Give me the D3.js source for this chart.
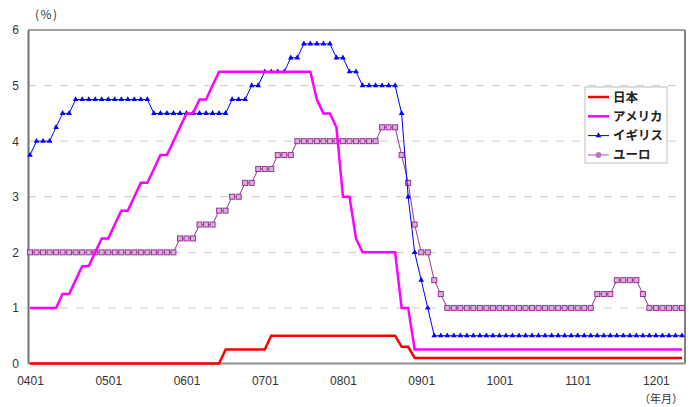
<!DOCTYPE html>
<html><head><meta charset="utf-8">
<script src="https://cdn.jsdelivr.net/npm/d3@7"></script>
<style>
body{margin:0;background:#fff;}
svg{display:block;}
</style></head>
<body>
<svg id="chart" width="694" height="407"></svg>
<script>
// Monthly periods 2004-01 .. 2012-05
const months = d3.range(101).map(i => {
  const y = 4 + Math.floor(i / 12), m = i % 12 + 1;
  return String(y).padStart(2, "0") + String(m).padStart(2, "0");
});
const xTickLabels = ["0401","0501","0601","0701","0801","0901","1001","1101","1201"];
const yTicks = [0,1,2,3,4,5,6];
const seriesNames = ["日本","アメリカ","イギリス","ユーロ"];

const japan = [
 0,0,0,0,0,0,0,0,0,0,0,0,
 0,0,0,0,0,0,0,0,0,0,0,0,
 0,0,0,0,0,0,0.25,0.25,0.25,0.25,0.25,0.25,
 0.25,0.5,0.5,0.5,0.5,0.5,0.5,0.5,0.5,0.5,0.5,0.5,
 0.5,0.5,0.5,0.5,0.5,0.5,0.5,0.5,0.5,0.3,0.3,0.1,
 0.1,0.1,0.1,0.1,0.1,0.1,0.1,0.1,0.1,0.1,0.1,0.1,
 0.1,0.1,0.1,0.1,0.1,0.1,0.1,0.1,0.1,0.1,0.1,0.1,
 0.1,0.1,0.1,0.1,0.1,0.1,0.1,0.1,0.1,0.1,0.1,0.1,
 0.1,0.1,0.1,0.1,0.1];
const usa = [
 1,1,1,1,1,1.25,1.25,1.5,1.75,1.75,2,2.25,
 2.25,2.5,2.75,2.75,3,3.25,3.25,3.5,3.75,3.75,4,4.25,
 4.5,4.5,4.75,4.75,5,5.25,5.25,5.25,5.25,5.25,5.25,5.25,
 5.25,5.25,5.25,5.25,5.25,5.25,5.25,5.25,4.75,4.5,4.5,4.25,
 3,3,2.25,2,2,2,2,2,2,1,1,0.25,
 0.25,0.25,0.25,0.25,0.25,0.25,0.25,0.25,0.25,0.25,0.25,0.25,
 0.25,0.25,0.25,0.25,0.25,0.25,0.25,0.25,0.25,0.25,0.25,0.25,
 0.25,0.25,0.25,0.25,0.25,0.25,0.25,0.25,0.25,0.25,0.25,0.25,
 0.25,0.25,0.25,0.25,0.25];
const uk = [
 3.75,4,4,4,4.25,4.5,4.5,4.75,4.75,4.75,4.75,4.75,
 4.75,4.75,4.75,4.75,4.75,4.75,4.75,4.5,4.5,4.5,4.5,4.5,
 4.5,4.5,4.5,4.5,4.5,4.5,4.5,4.75,4.75,4.75,5,5,
 5.25,5.25,5.25,5.25,5.5,5.5,5.75,5.75,5.75,5.75,5.75,5.5,
 5.5,5.25,5.25,5,5,5,5,5,5,4.5,3,2,
 1.5,1,0.5,0.5,0.5,0.5,0.5,0.5,0.5,0.5,0.5,0.5,
 0.5,0.5,0.5,0.5,0.5,0.5,0.5,0.5,0.5,0.5,0.5,0.5,
 0.5,0.5,0.5,0.5,0.5,0.5,0.5,0.5,0.5,0.5,0.5,0.5,
 0.5,0.5,0.5,0.5,0.5];
const euro = [
 2,2,2,2,2,2,2,2,2,2,2,2,
 2,2,2,2,2,2,2,2,2,2,2,2.25,
 2.25,2.25,2.5,2.5,2.5,2.75,2.75,3,3,3.25,3.25,3.5,
 3.5,3.5,3.75,3.75,3.75,4,4,4,4,4,4,4,
 4,4,4,4,4,4,4.25,4.25,4.25,3.75,3.25,2.5,
 2,2,1.5,1.25,1,1,1,1,1,1,1,1,
 1,1,1,1,1,1,1,1,1,1,1,1,
 1,1,1,1.25,1.25,1.25,1.5,1.5,1.5,1.5,1.25,1,
 1,1,1,1,1];

const svg = d3.select("#chart");
const L = 28, R = 685, T = 30, B = 363.5;
const x = d3.scaleLinear().domain([0, 100]).range([30, 682]);
const y = d3.scaleLinear().domain([0, 6]).range([B, T]);
const numFont = "'Liberation Sans', Arial, sans-serif";
const jpFont = "'Noto Sans CJK JP', sans-serif";

// gridlines
svg.append("g").selectAll("line").data(yTicks.filter(t => t > 0 && t < 6)).join("line")
  .attr("x1", L).attr("x2", R).attr("y1", d => y(d)).attr("y2", d => y(d))
  .attr("stroke", "#c8c8c8").attr("stroke-width", 1).attr("stroke-dasharray", "8,8");

// frame: top & right
svg.append("line").attr("x1", L).attr("x2", R).attr("y1", y(6)).attr("y2", y(6))
  .attr("stroke", "#a0a0a0").attr("stroke-width", 2);
svg.append("line").attr("x1", R).attr("x2", R).attr("y1", T).attr("y2", B)
  .attr("stroke", "#808080").attr("stroke-width", 2);

// y axis
const yAxis = svg.append("g").attr("transform", `translate(${L},0)`)
  .call(d3.axisLeft(y).tickValues(yTicks).tickSize(0).tickPadding(9).tickFormat(d3.format("d")));
yAxis.select(".domain").attr("stroke", "#707070").attr("stroke-width", 2);
yAxis.selectAll("text").attr("font-family", numFont).attr("font-size", 12).attr("fill", "#333");

// x axis
const xAxis = svg.append("g").attr("transform", `translate(0,${B})`)
  .call(d3.axisBottom(x).tickValues(xTickLabels.map(l => months.indexOf(l)))
    .tickSize(0).tickPadding(13).tickFormat(i => months[i]));
xAxis.select(".domain").attr("stroke", "#909090").attr("stroke-width", 2)
  .attr("d", `M${L},0H${R}`);
xAxis.selectAll("text").attr("font-family", numFont).attr("font-size", 12).attr("fill", "#333");

// unit labels
svg.append("text").attr("x", 35).attr("y", 18.5).text("(%)")
  .attr("font-family", jpFont).attr("font-size", 12).attr("letter-spacing", 1.5).attr("fill", "#333");
svg.append("text").attr("x", 683).attr("y", 402.5).attr("text-anchor", "end").text("（年月）")
  .attr("font-family", jpFont).attr("font-size", 11).attr("fill", "#333");

const line = d3.line().x((d, i) => x(i)).y(d => y(d));

// Euro
svg.append("path").datum(euro).attr("d", line).attr("fill", "none")
  .attr("stroke", "#993399").attr("stroke-width", 1);
svg.append("g").selectAll("rect").data(euro).join("rect")
  .attr("x", (d, i) => x(i) - 2.5).attr("y", d => y(d) - 2.5).attr("width", 5).attr("height", 5)
  .attr("fill", "#d9b0d9").attr("stroke", "#993399").attr("stroke-width", 1);

// UK
svg.append("path").datum(uk).attr("d", line).attr("fill", "none")
  .attr("stroke", "#0000ff").attr("stroke-width", 1);
const tri = d3.symbol().type(d3.symbolTriangle).size(14);
svg.append("g").selectAll("path").data(uk).join("path")
  .attr("transform", (d, i) => `translate(${x(i)},${y(d)})`).attr("d", tri).attr("fill", "#0000ff");

// USA
svg.append("path").datum(usa).attr("d", line).attr("fill", "none")
  .attr("stroke", "#ff00ff").attr("stroke-width", 2.5);
// Japan
svg.append("path").datum(japan).attr("d", line).attr("fill", "none")
  .attr("stroke", "#ff0000").attr("stroke-width", 2.5);

// legend
const lg = svg.append("g");
lg.append("rect").attr("x", 585).attr("y", 87).attr("width", 82).attr("height", 76)
  .attr("fill", "#fff").attr("stroke", "#c0c0c0").attr("stroke-width", 1);
const legendStyle = [
  {c: "#ff0000", w: 2.5, m: null},
  {c: "#ff00ff", w: 2.5, m: null},
  {c: "#0000ff", w: 1, m: "tri"},
  {c: "#cc88cc", w: 1.5, m: "circ"}
];
seriesNames.forEach((name, k) => {
  const yy = 97 + k * 19.3;
  const s = legendStyle[k];
  lg.append("line").attr("x1", 588).attr("x2", 609).attr("y1", yy).attr("y2", yy)
    .attr("stroke", s.c).attr("stroke-width", s.w);
  if (s.m === "tri") lg.append("path").attr("transform", `translate(598.5,${yy})`).attr("d", tri).attr("fill", s.c);
  if (s.m === "circ") lg.append("circle").attr("cx", 598.5).attr("cy", yy).attr("r", 3).attr("fill", "#bb77bb");
  lg.append("text").attr("x", 613).attr("y", yy + 4.5).text(name)
    .attr("font-family", jpFont).attr("font-size", 12.5).attr("font-weight", 700).attr("fill", "#222");
});
</script>
</body></html>
